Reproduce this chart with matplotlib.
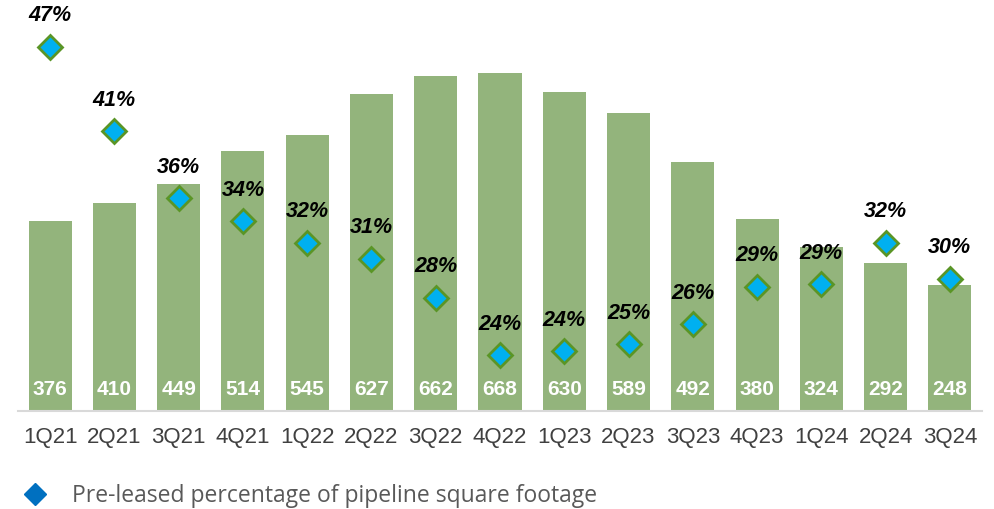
import matplotlib
matplotlib.use("Agg")
import matplotlib.pyplot as plt
from matplotlib.lines import Line2D

# data
quarters = ["1Q21", "2Q21", "3Q21", "4Q21", "1Q22", "2Q22", "3Q22", "4Q22",
            "1Q23", "2Q23", "3Q23", "4Q23", "1Q24", "2Q24", "3Q24"]
pipeline_sf = [376, 410, 449, 514, 545, 627, 662, 668, 630, 589, 492, 380, 324, 292, 248]
preleased_pct = [47.0, 40.7, 35.7, 34.0, 32.4, 31.2, 28.3, 24.0, 24.3, 24.8,
                 26.3, 29.1, 29.3, 32.4, 29.7]
preleased_labels = ["47%", "41%", "36%", "34%", "32%", "31%", "28%", "24%",
                    "24%", "25%", "26%", "29%", "29%", "32%", "30%"]

plt.rcParams["font.family"] = ["Liberation Sans", "DejaVu Sans"]

fig = plt.figure(figsize=(9.94, 5.10), dpi=100)
ax = fig.add_axes([18 / 994, 98 / 510, 964 / 994, 402 / 510])
x = range(len(quarters))

ax.bar(x, pipeline_sf, width=0.67, color="#93B47C", zorder=2)
ax.set_xlim(-0.5, len(quarters) - 0.5)
ax.set_ylim(0, 794)
for i, v in enumerate(pipeline_sf):
    ax.text(i, 22 * 794 / 402, str(v), ha="center", va="center", color="white",
            fontsize=15, fontweight="bold")

ax.set_xticks(list(x))
ax.set_xticklabels(quarters, fontsize=16, color="#404040")
ax.tick_params(axis="x", length=0, pad=11)
ax.set_yticks([])
for s in ["top", "right", "left"]:
    ax.spines[s].set_visible(False)
ax.spines["bottom"].set_color("#D9D9D9")
ax.spines["bottom"].set_linewidth(1.5)

# pre-leased % on secondary scale
ax2 = ax.twinx()
ax2.set_ylim(19.91 - 1 / 13.4, 49.83)
ax2.plot(list(x), preleased_pct, linestyle="none", marker="D", markersize=12,
         markerfacecolor="#00B0F0", markeredgecolor="#5A9526", markeredgewidth=2,
         zorder=3)
for i, v in enumerate(preleased_pct):
    ax2.annotate(preleased_labels[i], (i, v), xytext=(0, 23), textcoords="offset points",
                 ha="center", va="center", fontsize=15.5, fontweight="bold",
                 fontstyle="italic", color="black")
ax2.set_yticks([])
for s in ["top", "right", "left", "bottom"]:
    ax2.spines[s].set_visible(False)

# legend
fig.add_artist(Line2D([35 / 994], [1 - 495 / 510], transform=fig.transFigure,
                      linestyle="none", marker="D", markersize=11,
                      markerfacecolor="#0070C0", markeredgecolor="#0070C0"))
fig.text(72 / 994, 1 - 496 / 510, "Pre-leased percentage of pipeline square footage",
         ha="left", va="center", family="Open Sans", fontsize=16.5, color="#595959")

fig.savefig("out.png", dpi=100)
